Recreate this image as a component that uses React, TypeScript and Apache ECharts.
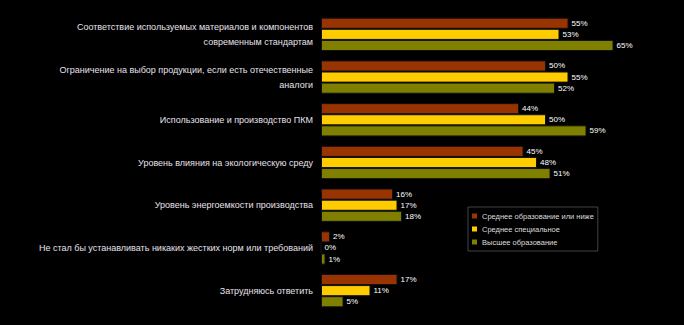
import React, { useEffect, useRef } from "react";
import * as echarts from "echarts";

const categories = [
  "Соответствие используемых материалов и компонентов\nсовременным стандартам",
  "Ограничение на выбор продукции, если есть отечественные\nаналоги",
  "Использование и производство ПКМ",
  "Уровень влияния на экологическую среду",
  "Уровень энергоемкости производства",
  "Не стал бы устанавливать никаких жестких норм или требований",
  "Затрудняюсь ответить",
];
const seriesNames = [
  "Среднее образование или ниже",
  "Среднее специальное",
  "Высшее образование",
];
const secondary = [55, 50, 44, 45, 16, 2, 17];
const specialized = [53, 55, 50, 48, 17, 0, 11];
const higher = [65, 52, 59, 51, 18, 1, 5];
const colors = ["#993300", "#FFCC00", "#808000"];

export default function App() {
  const ref = useRef<HTMLDivElement>(null);
  useEffect(() => {
    document.body.style.margin = "0";
    document.body.style.background = "#000000";
    const chart = echarts.init(ref.current!, null, { renderer: "svg" });
    const data = [secondary, specialized, higher];
    chart.setOption({
      animation: false,
      backgroundColor: "#000000",
      grid: { left: 321, top: 13, right: 48, bottom: 13 },
      xAxis: {
        type: "value",
        min: 0,
        max: 70,
        show: false,
      },
      yAxis: {
        type: "category",
        data: categories,
        inverse: true,
        axisLine: { show: false },
        axisTick: { show: false },
        axisLabel: {
          color: "#e8e0ec",
          fontSize: 9,
          fontFamily: "Liberation Sans, Arial, sans-serif",
          margin: 8,
          lineHeight: 15,
          align: "right",
        },
      },
      legend: {
        orient: "vertical",
        left: 468,
        top: 207,
        itemWidth: 5,
        itemHeight: 5,
        itemGap: 5,
        padding: [5, 4, 5, 4],
        borderColor: "#444444",
        borderWidth: 1,
        icon: "rect",
        itemStyle: { borderWidth: 0 },
        textStyle: {
          color: "#dddddd",
          fontSize: 7.5,
          fontFamily: "Liberation Sans, Arial, sans-serif",
        },
        data: seriesNames,
      },
      series: seriesNames.map((name, i) => ({
        name,
        type: "bar",
        data: data[i],
        barGap: "0%",
        barCategoryGap: "22%",
        itemStyle: {
          color: colors[i],
          borderColor: "#111111",
          borderWidth: 1,
        },
        label: {
          show: true,
          position: "right",
          distance: 3,
          formatter: "{c}%",
          color: "#ffffff",
          fontSize: 8,
          fontFamily: "Liberation Sans, Arial, sans-serif",
        },
      })),
    });
    return () => chart.dispose();
  }, []);
  return <div ref={ref} style={{ width: 684, height: 325 }} />;
}
